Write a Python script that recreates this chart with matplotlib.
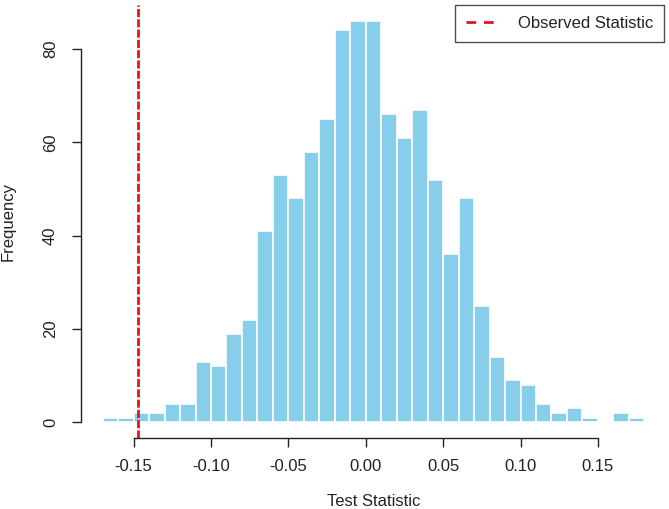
import matplotlib
matplotlib.use("Agg")
import matplotlib.pyplot as plt
import numpy as np

plt.rcParams['font.family'] = ['Liberation Sans', 'DejaVu Sans']

# histogram of permutation test statistics (bin width 0.01)
bin_start = -0.17
bin_width = 0.01
counts = [1, 1, 2, 2, 4, 4, 13, 12, 19, 22, 41, 53, 48, 58, 65, 84, 86, 86,
          66, 61, 67, 52, 36, 48, 25, 14, 9, 8, 4, 2, 3, 1, 0, 2, 1]
observed = -0.147
x_ticks = [-0.15, -0.10, -0.05, 0.00, 0.05, 0.10, 0.15]
y_ticks = [0, 20, 40, 60, 80]

lefts = bin_start + bin_width * np.arange(len(counts))

fig = plt.figure(figsize=(6.69, 5.09), dpi=100)
ax = fig.add_axes([81 / 669, 1 - 438.4 / 509, 585 / 669, 433.5 / 509])

ax.bar(lefts, counts, width=bin_width, align='edge', color='#87CEEB',
       edgecolor='white', linewidth=1.2)
line = ax.axvline(observed, color='#e8141c', linewidth=2, dashes=(2.9, 0.8),
                  label='Observed Statistic')

# R-style limits (4% padding)
x_lo, x_hi = bin_start, bin_start + bin_width * len(counts)
pad_x = 0.04 * (x_hi - x_lo)
ax.set_xlim(x_lo - pad_x, x_hi + pad_x)
pad_y = 0.04 * max(counts)
ax.set_ylim(-pad_y, max(counts) + pad_y)

ax.set_xticks(x_ticks)
ax.set_xticklabels([f'{t:.2f}' for t in x_ticks])
ax.set_yticks(y_ticks)
ax.set_yticklabels([str(t) for t in y_ticks], rotation=90, va='center')

for s in ['top', 'right']:
    ax.spines[s].set_visible(False)
ax.spines['bottom'].set_bounds(x_ticks[0], x_ticks[-1])
ax.spines['left'].set_bounds(y_ticks[0], y_ticks[-1])
for s in ['bottom', 'left']:
    ax.spines[s].set_linewidth(1.0)
    ax.spines[s].set_color('#222222')

ax.tick_params(axis='both', length=6.5, width=1.0, color='#222222',
               labelsize=12, labelcolor='#222222')
ax.tick_params(axis='x', pad=8)
ax.tick_params(axis='y', pad=10)

ax.set_xlabel('Test Statistic', fontsize=12, color='#222222')
ax.set_ylabel('Frequency', fontsize=12, color='#222222')
ax.xaxis.set_label_coords(0.5, -0.128)
ax.yaxis.set_label_coords(-0.112, 0.5)

leg = ax.legend(loc='upper right', bbox_to_anchor=(664 / 669, 1 - 5 / 509),
                bbox_transform=fig.transFigure, borderaxespad=0,
                fancybox=False, edgecolor='#222222', fontsize=12,
                handlelength=1.8, handletextpad=1.3, borderpad=0.65)
leg.get_frame().set_linewidth(1.0)
leg.get_lines()[0].set_dashes((3.5, 2.8))
for t in leg.get_texts():
    t.set_color('#222222')

fig.savefig('out.png', dpi=100)
